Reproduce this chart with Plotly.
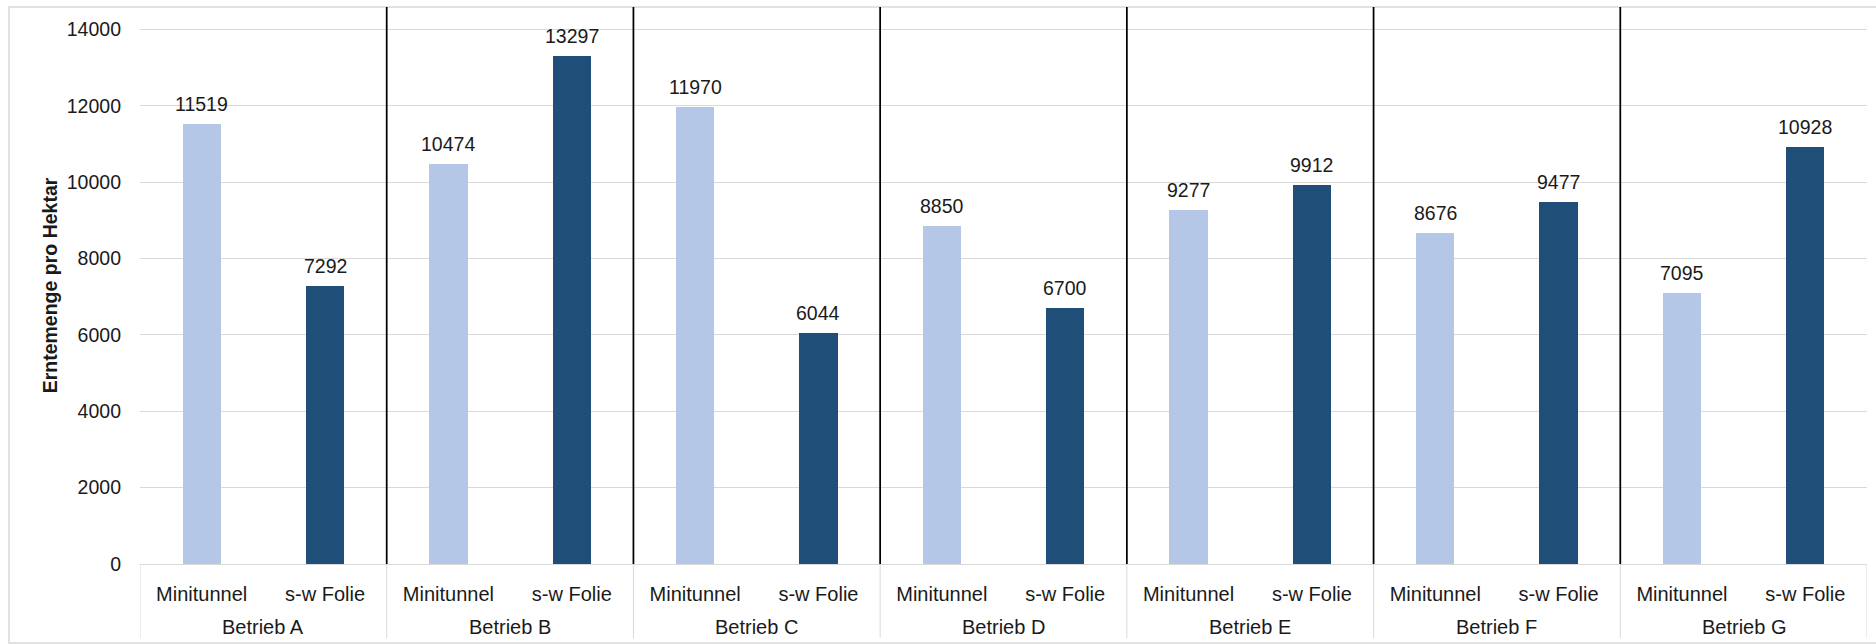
import plotly.graph_objects as go

# Yield per hectare, two cover methods on seven farms
betriebe = ["Betrieb A", "Betrieb B", "Betrieb C", "Betrieb D", "Betrieb E", "Betrieb F", "Betrieb G"]
verfahren = ["Minitunnel", "s-w Folie"]
minitunnel = [11519, 10474, 11970, 8850, 9277, 8676, 7095]
sw_folie = [7292, 13297, 6044, 6700, 9912, 9477, 10928]
y_ticks = [0, 2000, 4000, 6000, 8000, 10000, 12000, 14000]

FONT = "Liberation Sans, Arial, sans-serif"
TXT = "#1a1a1a"
GRID = "#d9d9d9"
LIGHT = "#b4c7e7"
DARK = "#1f4e79"

W, H = 1876, 644
ML, MR, MT, MB = 140, 9, 7, 80
plot_w = W - ML - MR
plot_h = H - MT - MB

n = len(betriebe)
x_mt = [2 * i for i in range(n)]
x_sw = [2 * i + 1 for i in range(n)]

fig = go.Figure()
fig.add_trace(go.Bar(x=x_mt, y=minitunnel, width=0.31, marker=dict(color=LIGHT, line=dict(width=0)),
                     name="Minitunnel", showlegend=False, hoverinfo="x+y"))
fig.add_trace(go.Bar(x=x_sw, y=sw_folie, width=0.31, marker=dict(color=DARK, line=dict(width=0)),
                     name="s-w Folie", showlegend=False, hoverinfo="x+y"))

# value labels above the bars
for xs, vals in ((x_mt, minitunnel), (x_sw, sw_folie)):
    for x, v in zip(xs, vals):
        fig.add_annotation(x=x, y=v, text=str(v), showarrow=False, xref="x", yref="y",
                           yanchor="middle", yshift=20,
                           font=dict(family=FONT, size=19.5, color=TXT))

# group labels of the second category row
for i, b in enumerate(betriebe):
    fig.add_annotation(x=2 * i + 0.5, y=-(627 - (H - MB)) / plot_h, text=b, showarrow=False,
                       xref="x", yref="paper", yanchor="middle",
                       font=dict(family=FONT, size=20, color=TXT))

shapes = []
# table dividers below the axis
div_y1 = -(638 - (H - MB)) / plot_h
for k in range(n + 1):
    shapes.append(dict(type="line", xref="x", yref="paper", x0=2 * k - 0.5, x1=2 * k - 0.5,
                       y0=0, y1=div_y1, line=dict(color=GRID, width=1)))
# black separators between farms
for k in range(1, n):
    shapes.append(dict(type="line", xref="x", yref="paper", x0=2 * k - 0.5, x1=2 * k - 0.5,
                       y0=0, y1=1, line=dict(color="black", width=1.75), layer="above"))
# chart border
shapes.append(dict(type="rect", xref="paper", yref="paper",
                   x0=(9 - ML) / plot_w, x1=(W + 5 - ML) / plot_w,
                   y0=-(643 - (H - MB)) / plot_h, y1=1,
                   line=dict(color=GRID, width=1.5), layer="below"))

# top of the plot area sits slightly above the 14000 gridline
px_per_unit = (564 - 29.3) / 14000
y_max = plot_h / px_per_unit

fig.update_layout(
    width=W, height=H,
    margin=dict(l=ML, r=MR, t=MT, b=MB, pad=0),
    paper_bgcolor="white", plot_bgcolor="white",
    font=dict(family=FONT, size=20, color=TXT),
    bargap=0,
    shapes=shapes,
    xaxis=dict(
        range=[-0.5, 2 * n - 0.5],
        tickmode="array",
        tickvals=x_mt + x_sw,
        ticktext=[verfahren[0]] * n + [verfahren[1]] * n,
        tickfont=dict(family=FONT, size=20, color=TXT),
        showgrid=False, zeroline=False,
        showline=True, linecolor=GRID, linewidth=1,
        ticks="", ticklabelstandoff=12,
        fixedrange=True,
    ),
    yaxis=dict(
        range=[0, y_max],
        tickmode="array", tickvals=y_ticks, ticktext=[str(t) for t in y_ticks],
        tickfont=dict(family=FONT, size=19.5, color=TXT),
        showgrid=True, gridcolor=GRID, gridwidth=1,
        zeroline=False, showline=False, ticks="", ticklabelstandoff=18,
        title=dict(text="<b>Erntemenge pro Hektar</b>", standoff=3,
                   font=dict(family=FONT, size=19.5, color=TXT)),
        fixedrange=True,
    ),
)

fig.write_html("out.html")
